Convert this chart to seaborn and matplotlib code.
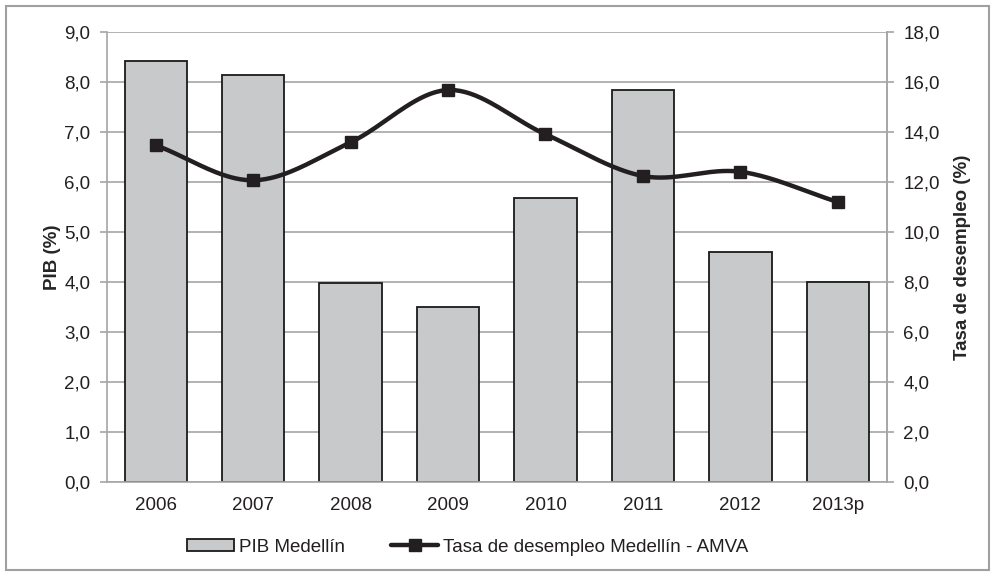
import numpy as np
import pandas as pd
import seaborn as sns
import matplotlib.pyplot as plt
from matplotlib.ticker import FuncFormatter, MultipleLocator
from matplotlib.patches import Patch, Rectangle
from matplotlib.lines import Line2D

years = ['2006', '2007', '2008', '2009', '2010', '2011', '2012', '2013p']
pib = [8.43, 8.15, 3.98, 3.50, 5.68, 7.84, 4.60, 4.00]
desempleo = [13.47, 12.07, 13.59, 15.68, 13.91, 12.24, 12.41, 11.20]

sns.set_style('white')
plt.rcParams['font.family'] = ['Liberation Sans', 'DejaVu Sans']
plt.rcParams['font.size'] = 13.5

df = pd.DataFrame({'year': years, 'pib': pib, 'tasa': desempleo})

fig = plt.figure(figsize=(9.95, 5.76), dpi=100)
ax = fig.add_axes([0.1075, 0.1632, 0.7835, 0.7812])

grid_c = '#a6a6a6'
fs = 13.5
sns.barplot(data=df, x='year', y='pib', color='#c8c9cb', edgecolor='#1a1a1a',
            linewidth=1.3, width=0.64, saturation=1, ax=ax, zorder=2)
ax.set_ylim(0, 9)
ax.set_xlim(-0.5, len(years) - 0.5)
ax.yaxis.set_major_locator(MultipleLocator(1))
ax.yaxis.grid(True, color=grid_c, linewidth=1.2)
ax.set_axisbelow(True)
fmt = FuncFormatter(lambda v, p: ('%.1f' % v).replace('.', ','))
ax.yaxis.set_major_formatter(fmt)
ax.set_xlabel('')
ax.set_ylabel('PIB (%)', fontweight='bold', fontsize=fs, labelpad=2)

# x ticks at category boundaries
ax.set_xticks(np.arange(len(years)))
ax.set_xticklabels(years)
ax.tick_params(axis='x', length=0, pad=11, labelsize=fs, labelcolor='#231f20')
ax.set_xticks(np.arange(len(years) + 1) - 0.5, minor=True)
ax.tick_params(axis='x', which='minor', length=5, color=grid_c, width=1.2, direction='out')
ax.tick_params(axis='y', length=5, color=grid_c, width=1.2, direction='out', pad=7,
               labelsize=fs, labelcolor='#231f20')

ax.spines['top'].set_visible(False)
for side in ['left', 'bottom', 'right']:
    ax.spines[side].set_color(grid_c)
    ax.spines[side].set_linewidth(1.2)

ax2 = ax.twinx()
ax2.set_ylim(0, 18)
ax2.yaxis.set_major_locator(MultipleLocator(2))
ax2.yaxis.set_major_formatter(fmt)
ax2.tick_params(axis='y', length=5, color=grid_c, width=1.2, direction='out', pad=7,
                labelsize=fs, labelcolor='#231f20')
ax2.set_ylabel('Tasa de desempleo (%)', fontweight='bold', fontsize=fs, labelpad=10)
for side in ['top', 'left', 'bottom']:
    ax2.spines[side].set_visible(False)
ax2.spines['right'].set_color(grid_c)
ax2.spines['right'].set_linewidth(1.2)

# smoothed line (Catmull-Rom through the data points)
xs = np.arange(len(years), dtype=float)
ys = np.array(desempleo)
px = np.concatenate([[2 * xs[0] - xs[1]], xs, [2 * xs[-1] - xs[-2]]])
py = np.concatenate([[2 * ys[0] - ys[1]], ys, [2 * ys[-1] - ys[-2]]])
cx, cy = [], []
t = np.linspace(0, 1, 40)
for i in range(1, len(px) - 2):
    p0, p1, p2, p3 = py[i - 1], py[i], py[i + 1], py[i + 2]
    q0, q1, q2, q3 = px[i - 1], px[i], px[i + 1], px[i + 2]
    cy.append(0.5 * (2 * p1 + (-p0 + p2) * t + (2 * p0 - 5 * p1 + 4 * p2 - p3) * t ** 2
                     + (-p0 + 3 * p1 - 3 * p2 + p3) * t ** 3))
    cx.append(0.5 * (2 * q1 + (-q0 + q2) * t + (2 * q0 - 5 * q1 + 4 * q2 - q3) * t ** 2
                     + (-q0 + 3 * q1 - 3 * q2 + q3) * t ** 3))
ax2.plot(np.concatenate(cx), np.concatenate(cy), color='#231f20', linewidth=3.2,
         solid_capstyle='round', zorder=3)
ax2.plot(xs, ys, linestyle='none', marker='s', markersize=9, color='#231f20', zorder=4)
ax2.set_xlim(-0.5, len(years) - 0.5)

handles = [Patch(facecolor='#c8c9cb', edgecolor='#1a1a1a', linewidth=1.3),
           Line2D([0], [0], color='#231f20', linewidth=3.2, marker='s', markersize=9)]
fig.legend(handles, ['PIB Medellín', 'Tasa de desempleo Medellín - AMVA'],
           loc='center', bbox_to_anchor=(0.47, 0.0503), ncol=2, frameon=False,
           handlelength=2.5, handleheight=0.6, handletextpad=0.25, columnspacing=2.5,
           fontsize=fs, labelcolor='#231f20')

fig.patches.append(Rectangle((0.006, 0.01), 0.988, 0.98, transform=fig.transFigure,
                             fill=False, edgecolor='#a0a0a0', linewidth=1.5))

fig.savefig('out.png', dpi=100)
